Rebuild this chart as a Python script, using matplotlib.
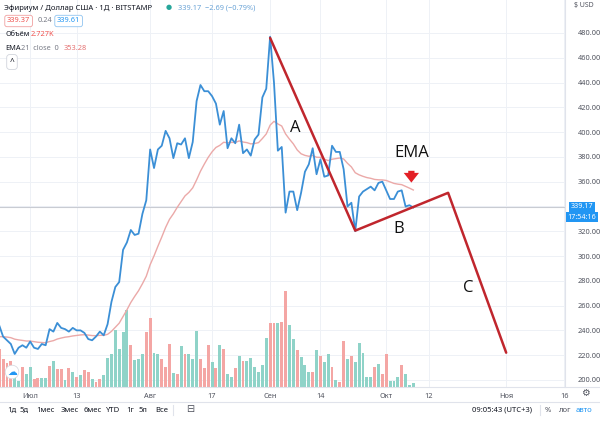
import numpy as np
import pandas as pd
import matplotlib
matplotlib.use('Agg')
import matplotlib.pyplot as plt
from matplotlib.transforms import blended_transform_factory

plt.rcParams['font.family'] = ['Noto Sans', 'DejaVu Sans']

# daily closes ETH/USD, 23 Jun .. 8 Oct
start = '2020-06-23'
close = [244, 235, 232, 229, 221, 226, 228, 226,
         231, 226, 225, 229, 228, 241, 239, 246, 242, 241, 239, 242, 240, 240, 238, 233,
         232, 235, 239, 236, 245, 263, 275, 279, 305, 311, 321, 317, 318, 334, 345,
         386, 371, 386, 389, 401, 395, 379, 391, 390, 395, 379, 392, 425, 438, 433, 433,
         429, 423, 406, 417, 387, 395, 391, 406, 383, 386, 381, 394, 398, 428, 435,
         477, 440, 385, 388, 335, 352, 352, 337, 351, 368, 374, 387, 366, 378, 364, 365,
         389, 384, 384, 370, 340, 343, 320, 348, 352, 354, 356, 353, 359, 360,
         353, 346, 346, 352, 353, 340, 341, 339.17]
ema21 = [234.9, 234.9, 234.6, 234.1, 232.9, 232.3, 231.9, 231.4,
         231.4, 230.9, 230.4, 230.2, 230.0, 231.0, 231.7, 233.0, 233.8, 234.5, 234.9, 235.5,
         235.9, 236.3, 236.5, 236.2, 235.8, 235.7, 236.0, 236.0, 236.8, 239.2, 242.5, 245.8,
         251.2, 256.6, 262.5, 267.4, 272.0, 277.6, 283.7,
         293.0, 300.1, 307.9, 315.3, 323.1, 329.6, 334.1, 339.3, 343.9, 348.5, 351.3, 355.0,
         361.4, 368.4, 374.2, 379.6, 384.1, 387.6, 389.3, 391.8, 391.4, 391.7, 391.6, 392.9,
         392.0, 391.5, 390.5, 390.8, 391.5, 394.8, 398.5,
         405.6, 408.7, 406.6, 404.9, 398.5, 394.3, 390.5, 385.6, 382.5, 381.2, 380.5, 381.1,
         379.7, 379.6, 378.2, 377.0, 378.1, 378.6, 379.1, 378.3, 374.8, 371.9, 367.2, 365.5,
         364.3, 363.3, 362.7, 361.8, 361.5, 361.4,
         361.0, 359.8, 358.6, 358.0, 357.6, 356.2, 354.8, 353.28]
volume = [38, 28, 24, 26, 12, 6, 20, 13, 20, 8, 9, 9, 9, 21, 26, 18, 18, 7, 19, 15,
          10, 12, 17, 15, 8, 5, 8, 12, 29, 33, 57, 38, 55, 77, 42, 27, 28, 33, 55, 69,
          34, 33, 28, 20, 43, 14, 13, 41, 33, 33, 28, 56, 28, 19, 42, 25, 19, 42, 38, 13,
          10, 19, 31, 26, 26, 29, 20, 15, 22, 49, 64, 64, 64, 65, 96, 62, 48, 37, 30, 22,
          15, 15, 37, 31, 25, 33, 20, 7, 5, 46, 28, 31, 25, 44, 34, 10, 10, 20, 23, 13,
          33, 6, 6, 10, 22, 13, 2, 4]
# r = down day, g = up day
vol_dir = ("rrrrggrggr" "rggrgrrgrg" "rgrrgrrggg" "ggggrgggrr" "ggrrrgrgrg"
           "ggrrrgrgrg" "grgrgggggg" "rrgrrggr" "gggrgrggrg" "rrgrgggggr" "grrgggrggg")

wave_dates = ['2020-09-01', '2020-09-23', '2020-10-17', '2020-11-01']
wave_prices = [476, 320.5, 351, 222]
last_price = 339.17
price_ticks = list(range(200, 481, 20))
tick_dates = ['2020-07-01', '2020-07-13', '2020-08-01', '2020-08-17', '2020-09-01',
              '2020-09-14', '2020-10-01', '2020-10-12', '2020-11-01', '2020-11-16']
tick_labels = ['Июл', '13', 'Авг', '17', 'Сен', '14', 'Окт', '12', 'Ноя', '16']

dates = pd.date_range(start, periods=len(close), freq='D')
t0 = pd.Timestamp(start)

W, H = 600, 421
def fx(x):
    return x / W
def fy(y):
    return 1 - y / H

fig = plt.figure(figsize=(6, 4.21), dpi=100)
pos = [0, fy(387), fx(565), 387 / H]

# volume pane underneath (also carries the grid so bars sit on top of it)
axv = fig.add_axes(pos)
ax = fig.add_axes(pos, sharex=axv)
ax.patch.set_alpha(0)

for d in tick_dates:
    axv.axvline(pd.Timestamp(d), color='#eef1f6', lw=0.7, zorder=0)
gtr = blended_transform_factory(axv.transAxes, ax.transData)
for p in price_ticks:
    axv.plot([0, 1], [p, p], transform=gtr, color='#eef1f6', lw=0.7, zorder=0)

cols = ['#8fd3c8' if c == 'g' else '#f4a6a4' for c in vol_dir]
axv.bar(dates, volume, width=0.75, color=cols, zorder=1)
axv.set_ylim(0, 387)
axv.set_xlim(t0 + pd.Timedelta(days=0.2), t0 + pd.Timedelta(days=146.2))
for s in axv.spines.values():
    s.set_visible(False)
axv.tick_params(bottom=False, labelbottom=False, left=False, labelleft=False)

ax.axhline(last_price, color='#c9ccd3', lw=0.8, zorder=1)
ax.plot(dates, ema21, color='#eba9a8', lw=1.0, zorder=2)
ax.plot(dates, close, color='#3b8fd6', lw=1.3, zorder=3)
ax.plot(pd.to_datetime(wave_dates), wave_prices, color='#c0262d', lw=1.8, zorder=4,
        solid_capstyle='round')

lab_font = dict(fontsize=12, color='#111111', family=['Open Sans', 'DejaVu Sans'],
                ha='center', va='center')
ax.text(t0 + pd.Timedelta(days=76.5), 403, 'A', **lab_font)
ax.text(t0 + pd.Timedelta(days=103.2), 322, 'B', **lab_font)
ax.text(t0 + pd.Timedelta(days=121.3), 274, 'C', **lab_font)
ax.text(t0 + pd.Timedelta(days=106.5), 383, 'EMA', **lab_font)
ax.annotate('', xy=(t0 + pd.Timedelta(days=106.5), 357),
            xytext=(t0 + pd.Timedelta(days=106.5), 371),
            arrowprops=dict(arrowstyle='simple,head_width=1.1,head_length=0.7,tail_width=0.45',
                            color='#e32026', lw=0))

ax.set_ylim(194.3, 506.6)
ax.yaxis.tick_right()
ax.set_yticks(price_ticks)
# the 340 label sits under the last-price tag
ax.set_yticklabels(['' if p == 340 else f'{p:.2f}' for p in price_ticks])
ax.set_xticks(pd.to_datetime(tick_dates))
ax.set_xticklabels(tick_labels)
ax.tick_params(axis='both', length=0, labelsize=5.3, colors='#50535e')
ax.tick_params(axis='y', pad=9)
ax.tick_params(axis='x', pad=4)
for s in ax.spines.values():
    s.set_visible(False)

# separators
fig.add_artist(plt.Line2D([fx(565), fx(565)], [fy(387), 1], color='#e0e3eb', lw=0.8))
fig.add_artist(plt.Line2D([0, 1], [fy(387), fy(387)], color='#e0e3eb', lw=0.8))
fig.add_artist(plt.Line2D([0, 1], [fy(402), fy(402)], color='#e0e3eb', lw=0.8))
fig.add_artist(plt.Line2D([fx(173), fx(173)], [fy(405), fy(415)], color='#e0e3eb', lw=0.8))
fig.add_artist(plt.Line2D([fx(540), fx(540)], [fy(405), fy(415)], color='#e0e3eb', lw=0.8))

# header legend
fig.text(fx(4), fy(8), 'Эфириум / Доллар США · 1Д · BITSTAMP', fontsize=5.5, color='#131722', va='center')
fig.text(fx(166), fy(8), '●', fontsize=5, color='#26a69a', va='center')
fig.text(fx(178), fy(8), '339.17  −2.69 (−0.79%)', fontsize=5.3, color='#6aa3d6', va='center')
fig.text(fx(7), fy(21), '339.37', fontsize=5.3, color='#ef5350', va='center',
         bbox=dict(boxstyle='round,pad=0.3', fc='white', ec='#f0a0a0', lw=0.6))
fig.text(fx(38), fy(21), '0.24', fontsize=5.3, color='#787b86', va='center')
fig.text(fx(57), fy(21), '339.61', fontsize=5.3, color='#2196f3', va='center',
         bbox=dict(boxstyle='round,pad=0.3', fc='white', ec='#90c4f0', lw=0.6))
fig.text(fx(5), fy(35), 'Объём', fontsize=5.3, color='#131722', va='center')
fig.text(fx(31), fy(35), '2.727K', fontsize=5.3, color='#ef5350', va='center')
fig.text(fx(5), fy(48), 'EMA', fontsize=5.3, color='#131722', va='center')
fig.text(fx(21), fy(48), '21  close  0', fontsize=5.3, color='#787b86', va='center')
fig.text(fx(64), fy(48), '353.28', fontsize=5.3, color='#e57373', va='center')
fig.text(fx(12), fy(62), '^', fontsize=6, color='#131722', va='center', ha='center',
         bbox=dict(boxstyle='round,pad=0.35', fc='white', ec='#d1d4dc', lw=0.6))

# right price scale extras
fig.text(fx(574), fy(6), '$ USD', fontsize=5, color='#50535e', va='center')
fig.text(fx(582), fy(207), f'{last_price:.2f}', fontsize=5.2, color='white', va='center', ha='center',
         bbox=dict(boxstyle='square,pad=0.25', fc='#2196f3', ec='none'))
fig.text(fx(582), fy(217), '17:54:16', fontsize=5.2, color='white', va='center', ha='center',
         bbox=dict(boxstyle='square,pad=0.25', fc='#2196f3', ec='none'))
fig.text(fx(585), fy(394), '⚙', fontsize=7, color='#50535e', va='center', ha='center')

# cloud badge
fig.text(fx(12), fy(372), '☁', fontsize=7, color='#2196f3', va='center', ha='center',
         bbox=dict(boxstyle='circle,pad=0.2', fc='white', ec='#d1d4dc', lw=0.5))

# bottom toolbar
ranges = ['1д', '5д', '1мес', '3мес', '6мес', 'YTD', '1г', '5л', 'Все']
range_x = [12, 24, 45, 70, 93, 113, 130, 143, 162]
for lbl, x in zip(ranges, range_x):
    fig.text(fx(x), fy(410), lbl, fontsize=5.5, color='#131722', va='center', ha='center')
fig.text(fx(190), fy(410), '⊟', fontsize=7, color='#50535e', va='center', ha='center')
fig.text(fx(502), fy(410), '09:05:43 (UTC+3)', fontsize=5.5, color='#131722', va='center', ha='center')
fig.text(fx(548), fy(410), '%', fontsize=5.5, color='#50535e', va='center', ha='center')
fig.text(fx(564), fy(410), 'лог', fontsize=5.5, color='#50535e', va='center', ha='center')
fig.text(fx(584), fy(410), 'авто', fontsize=5.5, color='#2196f3', va='center', ha='center')

fig.savefig('out.png', dpi=100, facecolor='white')
